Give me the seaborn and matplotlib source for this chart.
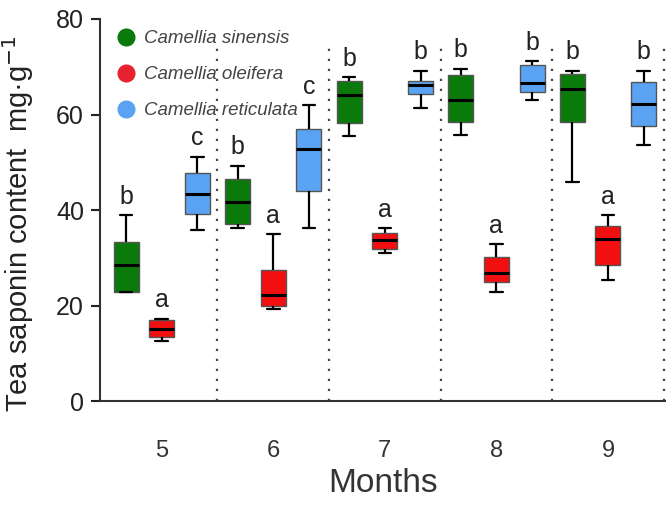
import numpy as np
import pandas as pd
import matplotlib
matplotlib.use("Agg")
import matplotlib.pyplot as plt
from matplotlib.lines import Line2D
import seaborn as sns

months = ["5", "6", "7", "8", "9"]
species = ["Camellia sinensis", "Camellia oleifera", "Camellia reticulata"]
colors = ["#0a7a0a", "#f20f0f", "#5aa3f2"]
legend_colors = ["#0a7a0a", "#e8212e", "#5aa3f2"]

# five-number summaries per month: [min, q1, median, q3, max]
sinensis = [
    [22.8, 22.9, 28.6, 33.4, 39.0],
    [36.2, 37.1, 41.7, 46.4, 49.3],
    [55.6, 58.3, 64.1, 67.0, 67.9],
    [55.8, 58.4, 63.1, 68.3, 69.6],
    [45.9, 58.5, 65.3, 68.5, 69.2],
]
oleifera = [
    [12.5, 13.5, 15.1, 17.0, 17.3],
    [19.2, 19.9, 22.2, 27.4, 34.9],
    [31.0, 31.9, 33.7, 35.3, 36.3],
    [22.8, 24.9, 26.9, 30.2, 32.9],
    [25.3, 28.6, 33.9, 36.6, 38.9],
]
reticulata = [
    [35.8, 39.1, 43.4, 47.8, 51.2],
    [36.2, 44.0, 52.8, 57.0, 62.0],
    [61.3, 64.2, 66.1, 67.0, 69.2],
    [63.0, 64.8, 66.7, 70.4, 71.2],
    [53.6, 57.7, 62.3, 66.9, 69.2],
]
letters_sinensis = ["b", "b", "b", "b", "b"]
letters_oleifera = ["a", "a", "a", "a", "a"]
letters_reticulata = ["c", "c", "b", "b", "b"]

series = [sinensis, oleifera, reticulata]
letters = [letters_sinensis, letters_oleifera, letters_reticulata]

rows = []
for sp, vals in zip(species, series):
    for m, five in zip(months, vals):
        for v in five:
            rows.append({"Month": m, "Species": sp, "value": v})
df = pd.DataFrame(rows)

sns.set_style("white")
plt.rcParams["font.family"] = ["Liberation Sans", "DejaVu Sans"]

fig = plt.figure(figsize=(6.66, 5.13), dpi=100)
ax = fig.add_axes([0.150, 0.218, 0.850, 0.745])

width = 0.96
sns.boxplot(
    data=df, x="Month", y="value", hue="Species", order=months, hue_order=species,
    palette=colors, width=width, gap=0.3, whis=(0, 100), saturation=1,
    linewidth=1.5, linecolor="black", legend=False, ax=ax,
    boxprops=dict(edgecolor="#555555", linewidth=1.0),
    medianprops=dict(color="black", linewidth=2.2),
    whiskerprops=dict(color="black", linewidth=1.6),
    capprops=dict(color="black", linewidth=1.6),
)

# significance letters
for i, (vals, lets) in enumerate(zip(series, letters)):
    off = (i - 1) * width / 3
    for j, (five, let) in enumerate(zip(vals, lets)):
        ax.text(j + off, max(five) + 1.3, let, ha="center", va="bottom",
                fontsize=18, color="#222222")

# dotted separators
ax.vlines(np.arange(len(months)) + 0.5, 0, 74, colors="#444444",
          linestyles=(0, (1, 3.5)), linewidth=1.6)

ax.set_ylim(0, 80)
ax.set_xlim(-0.554, 4.52)
ax.set_yticks([0, 20, 40, 60, 80])
ax.tick_params(axis="y", direction="out", length=6.5, width=1.5, pad=5,
               labelsize=18, colors="#222222", left=True)
ax.tick_params(axis="x", length=0, pad=28, labelsize=17, labelcolor="#333333")

for s in ["top", "right"]:
    ax.spines[s].set_visible(False)
for s in ["left", "bottom"]:
    ax.spines[s].set_color("#333333")
    ax.spines[s].set_linewidth(1.5)

ax.set_xlabel("Months", fontsize=24, color="#333333", labelpad=4)
ax.set_ylabel("Tea saponin content  mg·g$^{-1}$", fontsize=21, color="#222222")
ax.yaxis.set_label_coords(-0.112, 0.465)

handles = [Line2D([0], [0], marker="o", linestyle="none", markersize=12,
                  markerfacecolor=c, markeredgecolor=c) for c in legend_colors]
leg = ax.legend(handles, species, loc="upper left", bbox_to_anchor=(0.017, 0.99),
                frameon=False, handlelength=1.0, handletextpad=0.45,
                labelspacing=1.0, borderaxespad=0,
                prop={"style": "italic", "size": 13.5})
for t in leg.get_texts():
    t.set_color("#444444")

fig.savefig("out.png", dpi=100)
